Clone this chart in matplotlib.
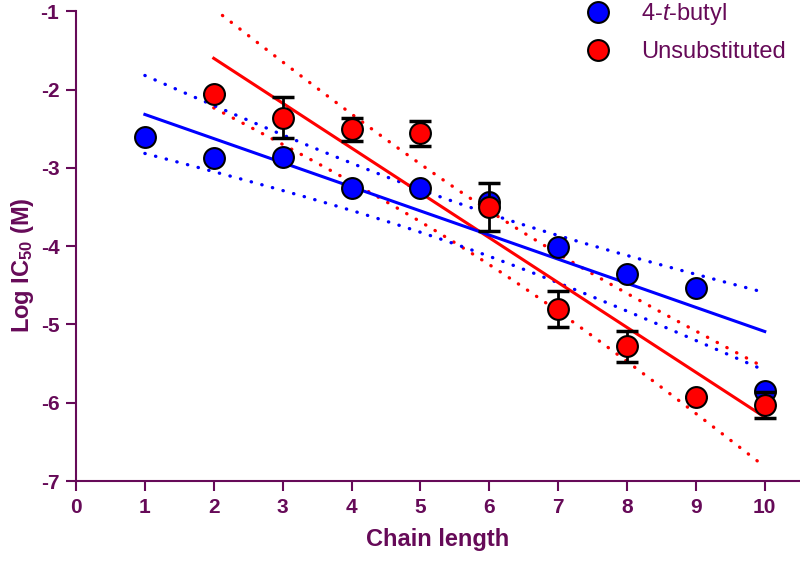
import numpy as np
import matplotlib
matplotlib.use('Agg')
import matplotlib.pyplot as plt

# data
blue_x = [1, 2, 3, 4, 5, 6, 7, 8, 9, 10]
blue_y = [-2.60, -2.87, -2.86, -3.26, -3.26, -3.44, -4.01, -4.35, -4.54, -5.85]

red_x = [2, 3, 4, 5, 6, 7, 8, 9, 10]
red_y = [-2.06, -2.36, -2.51, -2.56, -3.50, -4.80, -5.28, -5.93, -6.03]
red_err = [0.0, 0.26, 0.15, 0.16, 0.31, 0.23, 0.20, 0.0, 0.17]

x_ticks = [0, 1, 2, 3, 4, 5, 6, 7, 8, 9, 10]
y_ticks = [-7, -6, -5, -4, -3, -2, -1]

purple = '#660a58'

plt.rcParams['font.family'] = ['Liberation Sans', 'DejaVu Sans']
plt.rcParams['axes.unicode_minus'] = False
plt.rcParams['mathtext.fontset'] = 'custom'
plt.rcParams['mathtext.rm'] = 'Liberation Sans'
plt.rcParams['mathtext.it'] = 'Liberation Sans:italic'
plt.rcParams['mathtext.bf'] = 'Liberation Sans:bold'


def fit_band(x, y, t_crit):
    # straight-line fit with 95% confidence band, as in the original figure
    x = np.asarray(x, float)
    y = np.asarray(y, float)
    slope, icpt = np.polyfit(x, y, 1)
    n = len(x)
    resid = y - (slope * x + icpt)
    s = np.sqrt(np.sum(resid ** 2) / (n - 2))
    xs = np.linspace(x.min(), x.max(), 200)
    sxx = np.sum((x - x.mean()) ** 2)
    half = t_crit * s * np.sqrt(1 / n + (xs - x.mean()) ** 2 / sxx)
    fit = slope * xs + icpt
    return xs, fit, fit - half, fit + half


fig = plt.figure(figsize=(8, 5.62), dpi=100)
ax = fig.add_axes([0.095, 0.144, 0.904, 0.836])

dots = (0, (0.1, 3.2))
bx, bfit, blo, bhi = fit_band(blue_x, blue_y, 2.306)
rx, rfit, rlo, rhi = fit_band(red_x, red_y, 2.365)

ax.plot(rx, rlo, color='red', lw=2.4, ls=dots, dash_capstyle='round', zorder=2)
ax.plot(rx, rhi, color='red', lw=2.4, ls=dots, dash_capstyle='round', zorder=2)
ax.plot(bx, blo, color='blue', lw=2.4, ls=dots, dash_capstyle='round', zorder=2)
ax.plot(bx, bhi, color='blue', lw=2.4, ls=dots, dash_capstyle='round', zorder=2)
ax.plot(rx, rfit, color='red', lw=2.2, zorder=3)
ax.plot(bx, bfit, color='blue', lw=2.2, zorder=3)

ax.plot(blue_x, blue_y, 'o', ms=15, mfc='blue', mec='black', mew=1.5,
        label='4-$\\mathit{t}$-butyl', zorder=4)
ax.errorbar(red_x, red_y, yerr=red_err, fmt='none', ecolor='black',
            elinewidth=2, capsize=8, capthick=2.5, zorder=5)
ax.plot(red_x, red_y, 'o', ms=15, mfc='red', mec='black', mew=1.5,
        label='Unsubstituted', zorder=5)

ax.set_xlim(0, 10.5)
ax.set_ylim(-7, -1)
ax.set_xticks(x_ticks)
ax.set_yticks(y_ticks)

for side in ['top', 'right']:
    ax.spines[side].set_visible(False)
for side in ['left', 'bottom']:
    ax.spines[side].set_color(purple)
    ax.spines[side].set_linewidth(1.5)

ax.tick_params(direction='out', length=7, width=1.5, color=purple,
               labelcolor=purple, labelsize=15, pad=5)
for lab in ax.get_xticklabels() + ax.get_yticklabels():
    lab.set_fontweight('bold')

ax.set_xlabel('Chain length', fontsize=17, fontweight='bold', color=purple)
ax.set_ylabel('Log IC$_\\mathbf{50}$ (M)', fontsize=17, fontweight='bold',
              color=purple)
ax.xaxis.set_label_coords(0.5, -0.1)
ax.yaxis.set_label_coords(-0.056, 0.46)

leg = ax.legend(loc='upper right', frameon=False, fontsize=17,
                handletextpad=0.8, borderaxespad=0.0, labelspacing=0.6,
                bbox_to_anchor=(0.994, 1.042))
for txt in leg.get_texts():
    txt.set_color(purple)

fig.savefig('out.png', dpi=100)
